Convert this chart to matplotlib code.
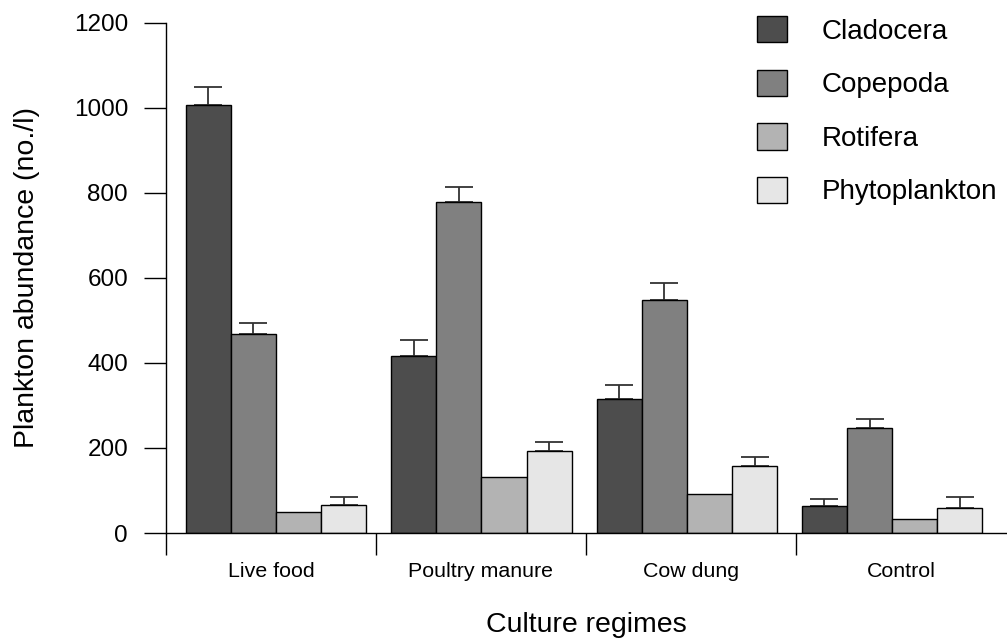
import matplotlib.pyplot as plt
import numpy as np
from matplotlib.ticker import FixedLocator

plt.rcParams['font.family'] = ['Liberation Sans', 'DejaVu Sans']

# data
regimes = ["Live food", "Poultry manure", "Cow dung", "Control"]
groups = ["Cladocera", "Copepoda", "Rotifera", "Phytoplankton"]
cladocera = [1008, 416, 316, 63]
copepoda = [468, 779, 548, 246]
rotifera = [49, 132, 92, 32]
phyto = [65, 192, 157, 59]
cladocera_err = [41, 37, 33, 18]
copepoda_err = [26, 36, 40, 23]
rotifera_err = [0, 0, 0, 0]
phyto_err = [20, 21, 22, 26]

values = [cladocera, copepoda, rotifera, phyto]
errors = [cladocera_err, copepoda_err, rotifera_err, phyto_err]
colors = ['#4d4d4d', '#808080', '#b3b3b3', '#e6e6e6']

fig = plt.figure(figsize=(10.07, 6.38), dpi=100)
ax = fig.add_axes([166/1007, 1 - 533/638, 840/1007, 510/638])

w = 0.215
centers = 0.024 + np.arange(len(regimes)) * 0.978
for i, (vals, errs) in enumerate(zip(values, errors)):
    xs = centers + (i - 1.5) * w
    ax.bar(xs, vals, width=w, color=colors[i], edgecolor='black',
           linewidth=1.0, label=groups[i], zorder=2)
    errs = np.array(errs)
    m = errs > 0
    if m.any():
        ax.errorbar(xs[m], np.array(vals)[m],
                    yerr=[np.zeros(m.sum()), errs[m]],
                    fmt='none', ecolor='#333333', elinewidth=1.3,
                    capsize=10.4, capthick=1.3, zorder=1)

ax.set_xlim(-0.5, 3.5)
ax.set_ylim(0, 1200)
ax.set_yticks(np.arange(0, 1201, 200))
ax.set_xticks(np.arange(len(regimes)))
ax.set_xticklabels(regimes, fontsize=15.4)
ax.xaxis.set_minor_locator(FixedLocator([-0.5, 0.5, 1.5, 2.5]))
ax.tick_params(axis='x', which='major', length=0, pad=21)
ax.tick_params(axis='x', which='minor', length=15.8, width=1.0, direction='out')
ax.tick_params(axis='y', length=15.8, width=1.0, direction='out', labelsize=17.5, pad=11.5)

for s in ['top', 'right']:
    ax.spines[s].set_visible(False)
ax.spines['left'].set_linewidth(1.0)
ax.spines['bottom'].set_linewidth(1.0)

ax.set_ylabel('Plankton abundance (no./l)', fontsize=20.5)
ax.set_xlabel('Culture regimes', fontsize=20.5)
ax.yaxis.set_label_coords(-0.166, 0.5)
ax.xaxis.set_label_coords(0.5, -0.18)
ax.yaxis.label.set_va('center')
ax.xaxis.label.set_va('center')

leg = ax.legend(loc='upper left', bbox_to_anchor=(757/1007, 1 - 16/638),
                bbox_transform=fig.transFigure, frameon=False, fontsize=20,
                handlelength=1.08, handleheight=1.08, handletextpad=1.25,
                labelspacing=0.9, borderpad=0, borderaxespad=0)

fig.savefig('out.png', dpi=100)
